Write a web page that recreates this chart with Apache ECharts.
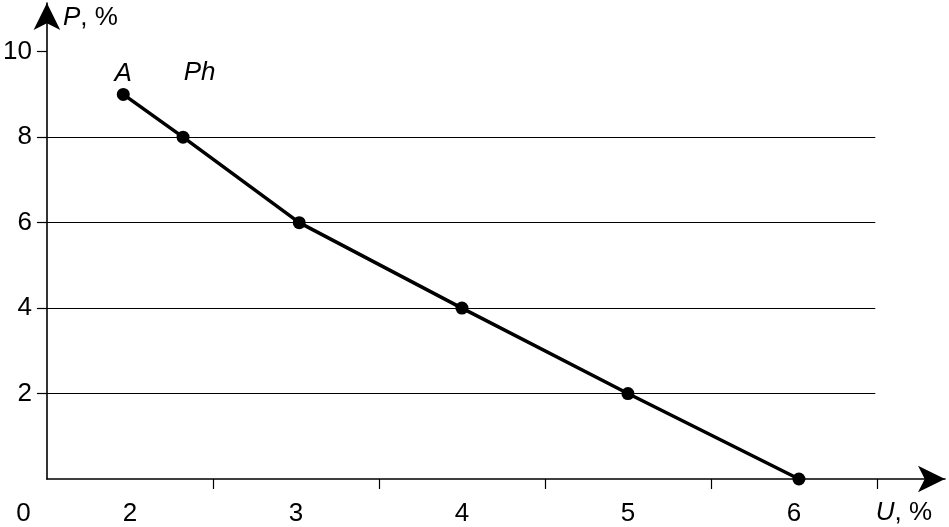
<!DOCTYPE html>
<html><head><meta charset="utf-8">
<script src="https://cdn.jsdelivr.net/npm/echarts@6/dist/echarts.min.js"></script>
<style>html,body{margin:0;padding:0;background:#fff}#c{width:949px;height:527px}</style>
</head><body><div id="c"></div>
<script>
// ---- data ----
const uValues = [1.96, 2.32, 3.02, 4.0, 5.0, 6.03];
const pValues = [9, 8, 6, 4, 2, 0];
const pointLabels = ['A', '', '', '', '', ''];
const xTickValues = [2.5, 3.5, 4.5, 5.5, 6.5];
const xLabelValues = [1.5, 2, 3, 4, 5, 6];
const xLabelTexts = ['0', '2', '3', '4', '5', '6'];
const yTickValues = [2, 4, 6, 8, 10];
const gridValues = [2, 4, 6, 8];
const gridXRange = [1.5, 6.49];
const curveName = 'Ph';
const curveNamePos = [2.42, 9.5];
const xName = '{i|U}, %';
const yName = '{i|P}, %';

const FONT = "'Liberation Sans', Arial, sans-serif";
const FS = 26;

const seriesData = uValues.map((u, i) => {
  const item = { value: [u, pValues[i]] };
  if (pointLabels[i]) {
    item.label = {
      show: true, position: 'top', distance: 1,
      formatter: pointLabels[i],
      color: '#000', fontFamily: FONT, fontSize: FS, fontStyle: 'italic'
    };
  }
  return item;
});

const chart = echarts.init(document.getElementById('c'), null, { renderer: 'canvas' });
chart.setOption({
  animation: false,
  backgroundColor: '#fff',
  grid: { left: 46, right: 4, top: 3, bottom: 47.7, containLabel: false },
  xAxis: {
    type: 'value', min: 1.5, max: 6.91,
    name: xName, nameLocation: 'end', nameGap: -41,
    nameTextStyle: {
      color: '#000', fontFamily: FONT, fontSize: FS, align: 'center', verticalAlign: 'middle',
      padding: [68, 0, 0, 0],
      rich: { i: { fontStyle: 'italic', fontFamily: FONT, fontSize: FS, color: '#000' } }
    },
    axisLine: { show: true, symbol: ['none', 'arrow'], symbolSize: [20, 27], lineStyle: { color: '#000', width: 1.6 } },
    axisTick: { show: true, inside: false, length: 10, customValues: xTickValues, lineStyle: { color: '#000', width: 1.2 } },
    axisLabel: {
      show: true, customValues: xLabelValues, margin: 22,
      color: '#000', fontFamily: FONT, fontSize: FS,
      formatter: function (v) {
        const idx = xLabelValues.indexOf(v);
        const t = idx >= 0 ? xLabelTexts[idx] : '';
        return idx === 0 ? '{z|' + t + '}' : t;
      },
      rich: { z: { padding: [0, 47, 0, 0], fontFamily: FONT, fontSize: FS, color: '#000' } }
    },
    splitLine: { show: false }
  },
  yAxis: {
    type: 'value', min: 0, max: 11.14,
    name: yName, nameLocation: 'end', nameGap: 0,
    nameTextStyle: {
      color: '#000', fontFamily: FONT, fontSize: FS, align: 'left', verticalAlign: 'middle',
      padding: [30, 0, 0, 16],
      rich: { i: { fontStyle: 'italic', fontFamily: FONT, fontSize: FS, color: '#000' } }
    },
    axisLine: { show: true, symbol: ['none', 'arrow'], symbolSize: [20, 27], lineStyle: { color: '#000', width: 1.6 } },
    axisTick: { show: true, inside: false, length: 10, customValues: yTickValues, lineStyle: { color: '#000', width: 1.2 } },
    axisLabel: { show: true, customValues: yTickValues, margin: 15, color: '#000', fontFamily: FONT, fontSize: FS },
    splitLine: { show: false }
  },
  series: [{
    type: 'line',
    data: seriesData,
    symbol: 'circle', symbolSize: 13,
    itemStyle: { color: '#000' },
    lineStyle: { color: '#000', width: 3.5 },
    markLine: {
      silent: true, symbol: ['none', 'none'],
      label: { show: false },
      lineStyle: { color: '#000', width: 1.2, type: 'solid' },
      emphasis: { disabled: true },
      data: gridValues.map(v => [{ coord: [gridXRange[0], v] }, { coord: [gridXRange[1], v] }])
    },
    markPoint: {
      silent: true, symbol: 'circle', symbolSize: 0,
      itemStyle: { color: 'transparent' },
      label: { show: true, position: 'inside', formatter: curveName, color: '#000', fontFamily: FONT, fontSize: FS, fontStyle: 'italic' },
      data: [{ coord: curveNamePos }]
    }
  }]
});
</script>
</body></html>
